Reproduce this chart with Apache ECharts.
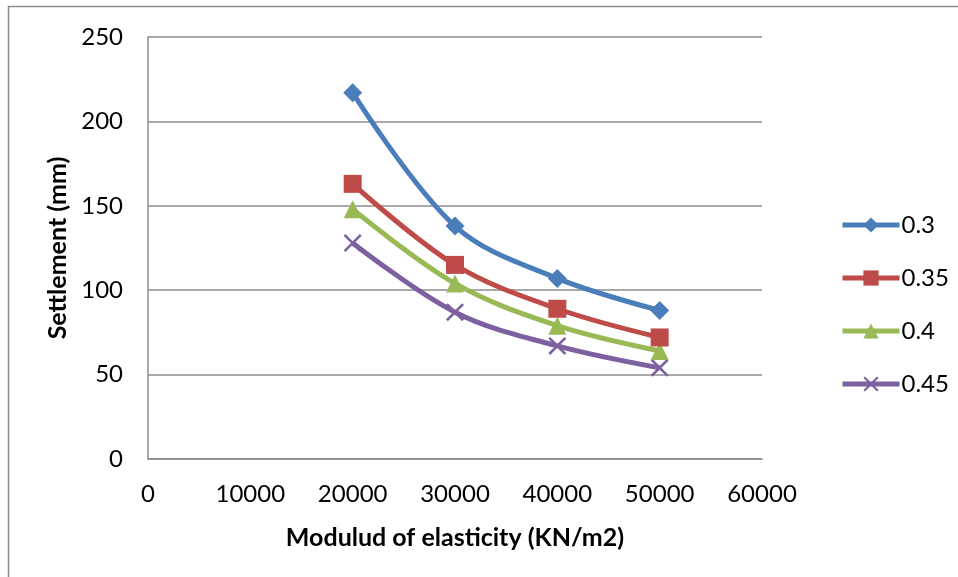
<!DOCTYPE html>
<html>
<head>
<meta charset="utf-8">
<script src="https://cdn.jsdelivr.net/npm/echarts@6/dist/echarts.min.js"></script>
<style>
html,body{margin:0;padding:0;background:#fff;}
#chart{width:958px;height:577px;}
</style>
</head>
<body>
<div id="chart"></div>
<script>
var xValues = [20000, 30000, 40000, 50000];
var seriesNames = ['0.3', '0.35', '0.4', '0.45'];
var s03 = [217, 138, 107, 88];
var s035 = [163, 115, 89, 72];
var s04 = [148, 104, 79, 64];
var s045 = [128, 87, 67, 54];
var xTitle = 'Modulud of elasticity (KN/m2)';
var yTitle = 'Settlement (mm)';

var colors = ['#4A7EBB', '#BE4B48', '#98B954', '#7D60A0'];
var symbols = ['diamond', 'rect', 'triangle',
  'path://M0,1 L1,0 L5,4 L9,0 L10,1 L6,5 L10,9 L9,10 L5,6 L1,10 L0,9 L4,5 Z'];
var sizes = [19, 18, 18, 18];
var allData = [s03, s035, s04, s045];
var font = 'Lato, "Open Sans", sans-serif';

function pairs(vals){ return xValues.map(function(x,i){ return [x, vals[i]]; }); }

var chart = echarts.init(document.getElementById('chart'));
chart.setOption({
  animation: false,
  graphic: [{
    type: 'rect', shape: {x: 8.5, y: 6.5, width: 1000, height: 1000},
    style: {fill: 'none', stroke: '#8c8c8c', lineWidth: 1.5}, silent: true
  }],
  grid: {left: 148, top: 37, right: 196, bottom: 118, containLabel: false},
  xAxis: {
    type: 'value', min: 0, max: 60000, interval: 10000,
    name: xTitle, nameLocation: 'middle', nameGap: 66,
    nameTextStyle: {fontFamily: font, fontSize: 25, fontWeight: 'bold', color: '#000'},
    axisLine: {show: true, lineStyle: {color: '#8c8c8c', width: 1.5}},
    axisTick: {show: false},
    axisLabel: {fontFamily: font, fontSize: 24, color: '#000', margin: 23,
      formatter: function(v){ return String(v); }},
    splitLine: {show: false}
  },
  yAxis: {
    type: 'value', min: 0, max: 250, interval: 50,
    name: yTitle, nameLocation: 'middle', nameGap: 76,
    nameTextStyle: {fontFamily: font, fontSize: 25, fontWeight: 'bold', color: '#000'},
    axisLine: {show: true, lineStyle: {color: '#8c8c8c', width: 1.5}},
    axisTick: {show: false},
    axisLabel: {fontFamily: font, fontSize: 24, color: '#000', margin: 25},
    splitLine: {show: true, lineStyle: {color: '#8c8c8c', width: 1.5}}
  },
  legend: {
    orient: 'vertical', left: 835, top: 208,
    itemWidth: 57, itemHeight: 19, itemGap: 29,
    lineStyle: {width: 5},
    textStyle: {fontFamily: font, fontSize: 24, color: '#000', padding: [0,0,0,-3]},
    data: seriesNames
  },
  series: seriesNames.map(function(n, i){
    return {
      name: n, type: 'line', smooth: 0.35,
      data: pairs(allData[i]),
      symbol: symbols[i], symbolSize: sizes[i],
      lineStyle: {color: colors[i], width: 5},
      itemStyle: {color: colors[i]},
      z: 10 - i
    };
  })
});
</script>
</body>
</html>
